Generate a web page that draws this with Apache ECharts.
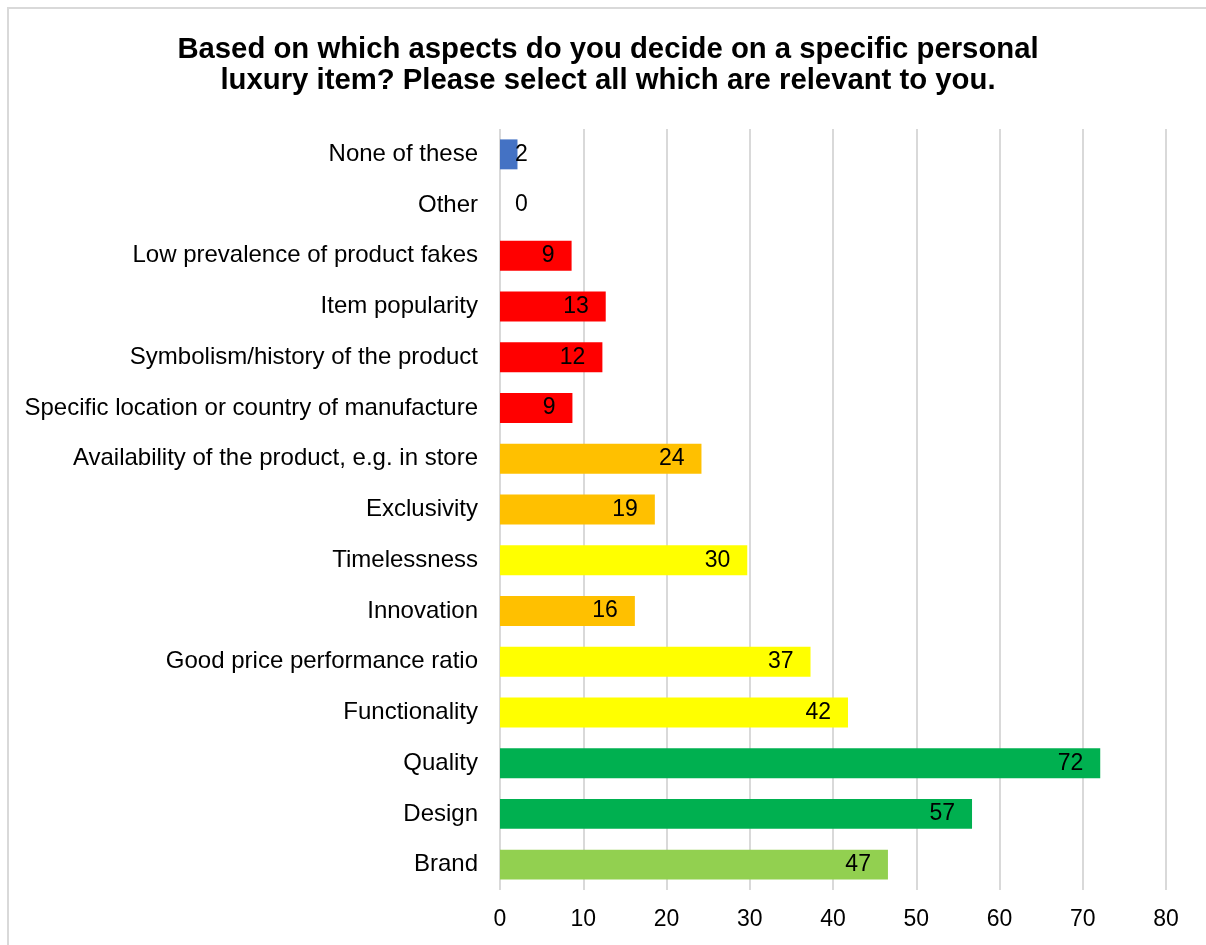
<!DOCTYPE html>
<html>
<head>
<meta charset="utf-8">
<style>
  html, body { margin: 0; padding: 0; background: #fff; overflow: hidden; }
  #frame { position: absolute; left: 7px; top: 7px; width: 1300px; height: 1100px; border: 2px solid #d9d9d9; box-sizing: border-box; }
  #chart { position: absolute; left: 0; top: 0; width: 1206px; height: 945px; }
</style>
<script src="https://cdn.jsdelivr.net/npm/echarts@6/dist/echarts.min.js"></script>
</head>
<body>
<div id="frame"></div>
<div id="chart"></div>
<script>
// Categories listed bottom to top (ECharts draws the first category at the bottom)
const categories = [
  "Brand",
  "Design",
  "Quality",
  "Functionality",
  "Good price performance ratio",
  "Innovation",
  "Timelessness",
  "Exclusivity",
  "Availability of the product, e.g. in store",
  "Specific location or country of manufacture",
  "Symbolism/history of the product",
  "Item popularity",
  "Low prevalence of product fakes",
  "Other",
  "None of these"
];
const values = [46.6, 56.7, 72.1, 41.8, 37.3, 16.2, 29.7, 18.6, 24.2, 8.7, 12.3, 12.7, 8.6, 0, 2.1];
const barColors = [
  "#92D050", "#00B050", "#00B050", "#FFFF00", "#FFFF00", "#FFC000", "#FFFF00",
  "#FFC000", "#FFC000", "#FF0000", "#FF0000", "#FF0000", "#FF0000", "#4472C4", "#4472C4"
];
const xTicks = { min: 0, max: 80, interval: 10 };
const titleText = "Based on which aspects do you decide on a specific personal\nluxury item? Please select all which are relevant to you.";

const FONT = "'Liberation Sans', Arial, sans-serif";

const seriesData = values.map((v, i) => {
  const item = { value: v, itemStyle: { color: barColors[i] } };
  if (v < 5) {
    item.label = { position: 'insideLeft', distance: 15 };
  }
  return item;
});

const chart = echarts.init(document.getElementById('chart'), null, { renderer: 'canvas' });
chart.setOption({
  backgroundColor: 'transparent',
  animation: false,
  title: {
    text: titleText,
    left: 603,
    textAlign: 'center',
    top: 29,
    textStyle: { fontFamily: FONT, fontSize: 29.3, fontWeight: 'bold', color: '#000', lineHeight: 31 }
  },
  grid: { left: 500, right: 40, top: 129, bottom: 55, containLabel: false },
  xAxis: {
    type: 'value',
    min: xTicks.min, max: xTicks.max, interval: xTicks.interval,
    axisLine: { show: false },
    axisTick: { show: false },
    splitLine: { show: true, lineStyle: { color: '#d9d9d9', width: 2 } },
    axisLabel: { fontFamily: FONT, fontSize: 23, color: '#000', margin: 18 }
  },
  yAxis: {
    type: 'category',
    data: categories,
    axisLine: { show: false },
    axisTick: { show: false },
    axisLabel: { fontFamily: FONT, fontSize: 24, color: '#000', margin: 22 }
  },
  series: [{
    type: 'bar',
    data: seriesData,
    barCategoryGap: '41%',
    label: {
      show: true,
      position: 'insideRight',
      distance: 17,
      fontFamily: FONT,
      fontSize: 23,
      color: '#000',
      formatter: p => Math.round(p.value)
    }
  }]
});
</script>
</body>
</html>
